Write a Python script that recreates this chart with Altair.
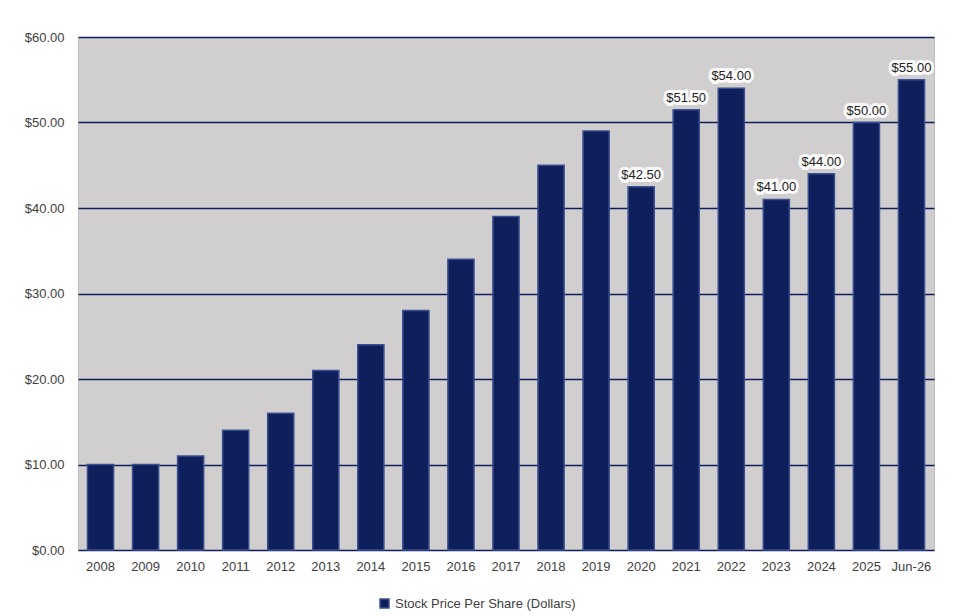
import altair as alt
import pandas as pd

years = ["2008", "2009", "2010", "2011", "2012", "2013", "2014", "2015", "2016",
         "2017", "2018", "2019", "2020", "2021", "2022", "2023", "2024", "2025", "Jun-26"]
prices = [10, 10, 11, 14, 16, 21, 24, 28, 34, 39, 45, 49, 42.5, 51.5, 54, 41, 44, 50, 55]
labelled = ["2020", "2021", "2022", "2023", "2024", "2025", "Jun-26"]

df = pd.DataFrame({"year": years, "price": prices})
df["series"] = "Stock Price Per Share (Dollars)"
df["label"] = ["$%.2f" % p if y in labelled else "" for y, p in zip(years, prices)]

font = "Liberation Sans"
base = alt.Chart(df).encode(
    x=alt.X("year:N", sort=years, title=None,
            scale=alt.Scale(paddingInner=0.42, paddingOuter=0.21),
            axis=alt.Axis(labelAngle=0, ticks=False, domain=False, labelPadding=10,
                          labelFont=font, labelFontSize=13, labelColor="#404040")),
)

bars = base.mark_bar(stroke="#3a4f8f", strokeWidth=1.5).encode(
    y=alt.Y("price:Q", title=None,
            scale=alt.Scale(domain=[0, 60]),
            axis=alt.Axis(values=[0, 10, 20, 30, 40, 50, 60], format="$.2f",
                          ticks=False, domain=False, grid=True, gridColor="#0e1f5b",
                          gridWidth=1.5, labelPadding=14, labelFont=font,
                          labelFontSize=13, labelColor="#404040")),
    color=alt.Color("series:N", scale=alt.Scale(range=["#0e1f5b"]),
                    legend=alt.Legend(orient="none", legendX=300, legendY=560,
                                      title=None, symbolType="square", labelLimit=0,
                                      labelFont=font, labelFontSize=13,
                                      labelColor="#404040", symbolSize=80,
                                      symbolStrokeColor="#3a4f8f")),
)

halo = base.mark_text(dy=-12, fontSize=13, font=font, stroke="white",
                      strokeWidth=6, strokeOpacity=0.9, color="white").encode(
    y="price:Q", text="label:N")
labels = base.mark_text(dy=-12, fontSize=13, font=font, color="#222222").encode(
    y="price:Q", text="label:N")

chart = (bars + halo + labels).properties(
    width=856, height=513,
    padding={"left": 16, "top": 23, "right": 5, "bottom": 5},
    view=alt.ViewBackground(fill="#d0cece", stroke="#bfbfbf"),
)

chart.save("out.html", embed_options={"renderer": "svg", "actions": False})
